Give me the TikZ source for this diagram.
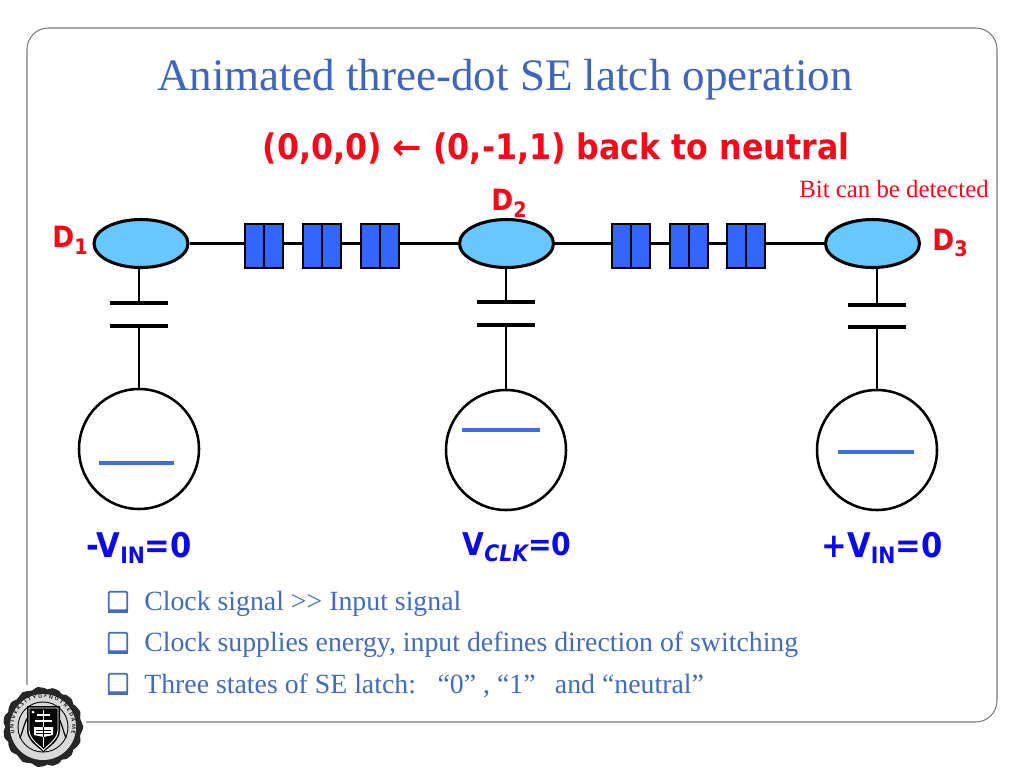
\documentclass[tikz,border=0pt]{standalone}
\usepackage{fontspec}
\setmainfont{Liberation Serif}
\newfontfamily\lab{DejaVu Sans}[FakeStretch=0.9]
\newfontfamily\symb{DejaVu Sans}
\definecolor{titleblue}{RGB}{62,102,190}
\definecolor{bodyblue}{RGB}{66,108,190}
\definecolor{labred}{RGB}{245,10,25}
\definecolor{labblue}{RGB}{10,10,235}
\definecolor{dotfill}{RGB}{102,200,255}
\definecolor{boxfill}{RGB}{51,102,255}
\definecolor{lineblue}{RGB}{60,110,225}
\definecolor{framegray}{RGB}{125,125,125}
\usetikzlibrary{shapes.geometric,decorations.text}
\tikzset{
  x=0.75pt,y=-0.75pt,
  dot/.style={ellipse,draw=black,fill=dotfill,line width=2.3pt,minimum width=70.5pt,minimum height=36pt,inner sep=0pt},
  gatecircle/.style={circle,draw=black,fill=white,line width=1.9pt,minimum size=90pt,inner sep=0pt},
  wire/.style={draw=black,line width=1.8pt},
  plate/.style={draw=black,line width=2.9pt},
  level/.style={draw=lineblue,line width=2.4pt},
  junction/.style={rectangle,draw=black,fill=boxfill,line width=2.2pt,minimum width=14.25pt,minimum height=33pt,inner sep=0pt},
  redlab/.style={text=labred,font=\lab\bfseries\fontsize{22}{24}\selectfont,inner sep=0pt},
  bluelab/.style={text=labblue,font=\lab\bfseries\fontsize{23.5}{26}\selectfont,inner sep=0pt},
  sidelab/.style={bluelab,font=\lab\bfseries\fontsize{25.5}{28}\selectfont},
  bul/.style={anchor=west,text=bodyblue,font=\fontsize{20.85}{24}\selectfont,inner sep=0pt},
  bbox/.style={rectangle,draw=bodyblue,line width=1.3pt,rounded corners=1pt,minimum size=14pt,inner sep=0pt},
}
\newcommand{\dbl}[2]{%
  \node[junction] (#1a) at (#2-9.5,246) {};
  \node[junction] (#1b) at (#2+9.5,246) {};}
\newcommand{\lsub}[1]{\raisebox{-5pt}{\fontsize{17}{18}\selectfont #1}}
\newcommand{\dsub}[1]{\raisebox{-5pt}{\fontsize{16}{18}\selectfont #1}}
\begin{document}
\begin{tikzpicture}
\useasboundingbox (0,0) rectangle (1024,768);
\fill[white] (0,0) rectangle (1024,768);
% frame
\coordinate (fa) at (27,685);
\coordinate (fb) at (85,722);
\draw[framegray,line width=0.8pt,rounded corners=16pt] (fa) -- (27,28) -- (997,28) -- (997,722) -- (fb);
% title
\node[text=titleblue,font=\fontsize{33.8}{40}\selectfont,inner sep=0pt] (title) at (505,80) {Animated three-dot SE latch operation};
\node[redlab,font=\lab\bfseries\fontsize{26.4}{28}\selectfont] (sub) at (556,149) {(0,0,0) {\symb\bfseries ←} (0,-1,1) back to neutral};
\node[text=labred,font=\fontsize{18.6}{20}\selectfont,inner sep=0pt,anchor=east] (bit) at (989,189) {Bit can be detected};
% wires
\coordinate (c1) at (139,303); \coordinate (c1b) at (139,326);
\coordinate (c2) at (506,302); \coordinate (c2b) at (506,325);
\coordinate (c3) at (877,305); \coordinate (c3b) at (877,327);
\coordinate (wy) at (0,243.5);
% dots and gates
\node[gatecircle] (g1) at (139,449) {};
\node[gatecircle] (g2) at (506,450) {};
\node[gatecircle] (g3) at (877,450) {};
\node[dot] (d1) at (141,243.5) {};
\node[dot] (d2) at (506.5,243.5) {};
\node[dot] (d3) at (872.5,243.5) {};
% junction arrays
\dbl{p}{264}\dbl{q}{322}\dbl{r}{380}
\dbl{s}{631}\dbl{t}{689}\dbl{u}{746}
\draw[wire] (d1.east) -- (pa.west |- wy) (pb.east |- wy) -- (qa.west |- wy) (qb.east |- wy) -- (ra.west |- wy) (rb.east |- wy) -- (d2.west);
\draw[wire] (d2.east) -- (sa.west |- wy) (sb.east |- wy) -- (ta.west |- wy) (tb.east |- wy) -- (ua.west |- wy) (ub.east |- wy) -- (d3.west);
% capacitors
\draw[wire] (d1.south -| c1) -- (c1) (c1b) -- (g1.north);
\draw[wire] (d2.south -| c2) -- (c2) (c2b) -- (g2.north);
\draw[wire] (d3.south -| c3) -- (c3) (c3b) -- (g3.north);
\draw[plate] (110,303) -- (168,303) (110,326) -- (168,326);
\draw[plate] (477,302) -- (535,302) (477,325) -- (535,325);
\draw[plate] (848,305) -- (906,305) (848,327) -- (906,327);
% levels
\draw[level] (99,463) -- (174,463);
\draw[level] (462,430) -- (540,430);
\draw[level] (838,452) -- (914,452);
% dot labels
\node[redlab] (l1) at (70,240) {D\dsub{1}};
\node[redlab] (l2) at (509,203) {D\dsub{2}};
\node[redlab] (l3) at (950,243) {D\dsub{3}};
% gate labels
\node[sidelab] (v1) at (139,548) {-V\lsub{IN}=0};
\node[bluelab] (v2) at (517,547) {V\lsub{\itshape CLK}=0};
\node[sidelab] (v3) at (882,548) {+V\lsub{IN}=0};
% bullets
\node[bbox] (b1) at (118,601) {};
\node[bbox] (b2) at (118,642) {};
\node[bbox] (b3) at (118,683) {};
\draw[bodyblue,line width=2.4pt] (b1.south west) -- (b1.south east) (b2.south west) -- (b2.south east) (b3.south west) -- (b3.south east);
\node[bul] (t1) at (144,604) {Clock signal >{}> Input signal};
\node[bul] (t2) at (144,645) {Clock supplies energy, input defines direction of switching};
\node[bul] (t3) at (144,686) {Three states of SE latch:\,\; “0” , “1”\,\; and “neutral”};
% seal
\fill[white] (0,686) rectangle (86,768);
\fill[black!85] plot[smooth cycle,samples=48,domain=0:352.5] ({43+39*cos(\x)+1.3*cos(16*\x)},{727+39*sin(\x)+1.3*sin(16*\x)});
\fill[white!85!black] (43,727) circle[radius=33];
\fill[black] (43,727) circle[radius=25.5];
\fill[white!85!black] (43,727) circle[radius=24.5];
\path[postaction={decorate},decoration={text along path,text align=center,raise=-1.2pt,text={|\fontsize{3.8}{4}\bfseries\sffamily\color{black}|U N I V E R S I T Y  O F  N O T R E  D A M E}}] (16.3,742.4) arc[start angle=150,end angle=390,radius=30.8];
\draw[black,line width=0.9pt] (20,738) .. controls (24,728) and (24,722) .. (29,716) (66,738) .. controls (62,728) and (62,722) .. (57,716);
\fill[black] (27,706) -- (60,706) -- (60,730) .. controls (60,741) and (49,747) .. (43.5,752) .. controls (38,747) and (27,741) .. (27,730) -- cycle;
\draw[white,line width=0.7pt] (29,708) -- (58,708) -- (58,730) .. controls (58,739) and (48,745) .. (43.5,750) .. controls (39,745) and (29,739) .. (29,730) -- cycle;
\fill[white] (34,727) -- (53,727) -- (53,735) -- (43.5,737) -- (34,735) -- cycle;
\draw[white,line width=1.1pt] (43.5,710) -- (43.5,727) (37,715) -- (50,715) (35,721) -- (52,721);
\draw[white,line width=0.9pt] (43.5,737) -- (43.5,747);
\draw[black,line width=0.5pt] (43.5,727) -- (43.5,737) (36,730) -- (51,730) (36,733) -- (51,733);
\fill[white] (33,712) circle[radius=1.5];
\end{tikzpicture}
\end{document}
